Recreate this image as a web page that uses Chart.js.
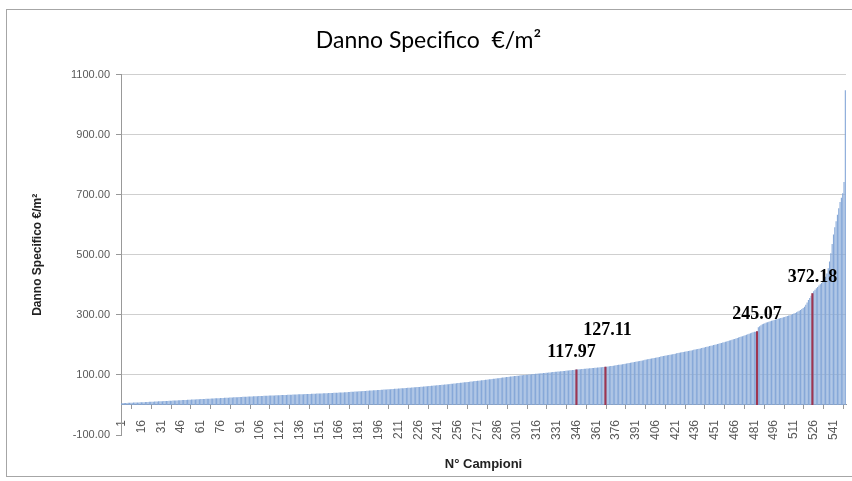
<!DOCTYPE html>
<html>
<head>
<meta charset="utf-8">
<script src="https://cdn.jsdelivr.net/npm/chart.js@4.4.1/dist/chart.umd.min.js"></script>
<style>
  html, body { margin: 0; padding: 0; background: #fff; overflow: hidden; }
  #frame { position: absolute; left: 6px; top: 9px; width: 900px; height: 466px; border: 1px solid #a6a6a6; }
  #wrap { position: absolute; left: 7px; top: 10px; width: 848px; height: 466px; }
</style>
</head>
<body>
<div id="frame"></div>
<div id="wrap"><canvas id="chart"></canvas></div>
<script>
// danno specifico per campione, ordinato
const values = [
  6.0, 6.2, 6.5, 6.7, 6.9, 7.1, 7.3, 7.4, 7.6, 7.8,
  8.0, 8.1, 8.3, 8.5, 8.7, 8.9, 9.2, 9.4, 9.7, 10.0,
  10.2, 10.5, 10.7, 10.9, 11.1, 11.4, 11.6, 11.8, 12.0, 12.3,
  12.5, 12.7, 13.0, 13.2, 13.4, 13.6, 13.9, 14.1, 14.3, 14.6,
  14.8, 15.0, 15.2, 15.5, 15.7, 15.9, 16.2, 16.4, 16.6, 16.9,
  17.1, 17.3, 17.6, 17.8, 18.0, 18.3, 18.5, 18.8, 19.0, 19.2,
  19.5, 19.7, 19.9, 20.2, 20.4, 20.6, 20.9, 21.1, 21.3, 21.6,
  21.8, 22.0, 22.3, 22.5, 22.7, 23.0, 23.2, 23.4, 23.7, 23.9,
  24.1, 24.4, 24.6, 24.8, 25.1, 25.3, 25.6, 25.8, 26.0, 26.3,
  26.5, 26.8, 27.0, 27.2, 27.5, 27.7, 28.0, 28.2, 28.4, 28.6,
  28.8, 29.0, 29.2, 29.4, 29.6, 29.8, 30.0, 30.2, 30.4, 30.6,
  30.8, 31.0, 31.2, 31.4, 31.5, 31.7, 31.9, 32.1, 32.3, 32.5,
  32.7, 32.9, 33.0, 33.2, 33.4, 33.6, 33.8, 34.0, 34.2, 34.4,
  34.5, 34.7, 34.9, 35.1, 35.3, 35.5, 35.6, 35.8, 36.0, 36.2,
  36.4, 36.5, 36.7, 36.9, 37.1, 37.3, 37.4, 37.6, 37.8, 38.0,
  38.2, 38.4, 38.5, 38.7, 38.9, 39.1, 39.3, 39.5, 39.7, 39.9,
  40.1, 40.3, 40.5, 40.7, 40.9, 41.1, 41.4, 41.6, 41.9, 42.1,
  42.4, 42.7, 43.0, 43.3, 43.6, 43.9, 44.2, 44.5, 44.8, 45.1,
  45.4, 45.7, 46.0, 46.3, 46.6, 46.9, 47.2, 47.5, 47.8, 48.1,
  48.4, 48.7, 49.0, 49.3, 49.6, 49.9, 50.2, 50.5, 50.8, 51.1,
  51.4, 51.7, 52.0, 52.3, 52.6, 53.0, 53.3, 53.6, 53.9, 54.3,
  54.6, 54.9, 55.3, 55.6, 55.9, 56.3, 56.6, 57.0, 57.3, 57.7,
  58.0, 58.4, 58.7, 59.1, 59.5, 59.8, 60.2, 60.6, 61.0, 61.3,
  61.7, 62.1, 62.5, 62.9, 63.3, 63.7, 64.1, 64.5, 64.9, 65.3,
  65.8, 66.2, 66.6, 67.1, 67.5, 68.0, 68.4, 68.9, 69.3, 69.8,
  70.3, 70.8, 71.3, 71.8, 72.3, 72.8, 73.3, 73.8, 74.3, 74.8,
  75.3, 75.8, 76.3, 76.8, 77.3, 77.8, 78.4, 78.9, 79.4, 79.9,
  80.5, 81.0, 81.5, 82.1, 82.6, 83.2, 83.7, 84.2, 84.8, 85.3,
  85.9, 86.4, 87.0, 87.6, 88.1, 88.7, 89.3, 89.9, 90.5, 91.1,
  91.7, 92.3, 92.9, 93.5, 94.1, 94.6, 95.1, 95.6, 96.1, 96.6,
  97.1, 97.6, 98.1, 98.6, 99.1, 99.5, 100.0, 100.4, 100.9, 101.3,
  101.8, 102.2, 102.7, 103.1, 103.6, 104.0, 104.5, 104.9, 105.4, 105.8,
  106.3, 106.7, 107.2, 107.6, 108.1, 108.5, 109.0, 109.4, 109.9, 110.3,
  110.8, 111.2, 111.7, 112.1, 112.6, 113.0, 113.5, 114.0, 114.5, 115.0,
  115.4, 115.9, 116.3, 116.8, 117.4, 117.97, 118.4, 118.8, 119.2, 119.6,
  120.0, 120.4, 120.8, 121.2, 121.6, 122.0, 122.5, 122.9, 123.3, 123.7,
  124.1, 124.5, 124.9, 125.3, 125.8, 126.2, 126.7, 127.11, 127.6, 128.2,
  128.8, 129.4, 130.1, 130.7, 131.4, 132.1, 132.8, 133.5, 134.2, 135.0,
  135.7, 136.5, 137.3, 138.1, 138.9, 139.7, 140.5, 141.3, 142.2, 143.0,
  143.9, 144.8, 145.7, 146.6, 147.5, 148.4, 149.3, 150.2, 151.1, 152.0,
  152.9, 153.8, 154.7, 155.6, 156.5, 157.4, 158.3, 159.2, 160.1, 161.0,
  161.9, 162.8, 163.7, 164.6, 165.5, 166.4, 167.3, 168.2, 169.1, 170.0,
  170.9, 171.8, 172.7, 173.6, 174.5, 175.4, 176.3, 177.2, 178.1, 179.0,
  179.9, 180.8, 181.7, 182.6, 183.5, 184.4, 185.4, 186.4, 187.4, 188.4,
  189.4, 190.5, 191.6, 192.7, 193.8, 194.9, 196.0, 197.1, 198.2, 199.3,
  200.5, 201.7, 202.9, 204.1, 205.3, 206.5, 207.8, 209.1, 210.4, 211.7,
  213.0, 214.4, 215.8, 217.2, 218.6, 220.0, 221.5, 223.0, 224.5, 226.0,
  227.6, 229.2, 230.8, 232.4, 234.0, 235.7, 237.4, 239.1, 240.8, 242.5,
  243.4, 244.2, 245.07, 258.5, 262.0, 265.3, 268.4, 270.6, 272.5, 274.2,
  275.8, 277.3, 278.7, 280.1, 281.5, 282.9, 284.2, 285.5, 286.8, 288.1,
  289.4, 290.7, 292.0, 293.3, 294.6, 296.0, 297.5, 299.1, 300.8, 302.6,
  304.5, 306.5, 308.7, 311.0, 313.5, 316.3, 319.4, 322.8, 327.0, 333.5,
  341.0, 349.2, 356.5, 364.0, 372.18, 378.5, 383.9, 388.6, 393.0, 397.4,
  401.8, 406.5, 411.8, 418.0, 426.5, 438.0, 455.0, 478.0, 505.0, 536.0,
  568.0, 592.0, 612.0, 633.0, 655.0, 676.0, 690.0, 705.0, 742.0, 1048.0
];

// campioni evidenziati in rosso con etichetta
const highlighted = [346, 368, 483, 525];

// etichette visibili sull'asse x
const xTickLabels = ['1', '16', '31', '46', '61', '76', '91', '106', '121', '136', '151', '166',
  '181', '196', '211', '226', '241', '256', '271', '286', '301', '316', '331', '346', '361',
  '376', '391', '406', '421', '436', '451', '466', '481', '496', '511', '526', '541'];

const yTicks = [-100, 100, 300, 500, 700, 900, 1100];

const samples = values.map((v, i) => String(i + 1));
const highlightValues = values.map((v, i) => highlighted.includes(i + 1) ? v : null);

// spostamento delle etichette rispetto alla cima della barra
const labelShift = [[-5, -17], [2, -36], [0, -17], [0, -16]];

const barLabels = {
  id: 'barLabels',
  afterDatasetsDraw(chart) {
    const meta = chart.getDatasetMeta(1);
    const ctx = chart.ctx;
    ctx.save();
    ctx.font = 'bold 18px "Liberation Serif", serif';
    ctx.fillStyle = '#000';
    ctx.textAlign = 'center';
    ctx.textBaseline = 'middle';
    highlighted.forEach((s, k) => {
      const bar = meta.data[s - 1];
      ctx.fillText(values[s - 1].toFixed(2), bar.x + labelShift[k][0], bar.y + labelShift[k][1]);
    });
    ctx.restore();
  }
};

const ctx = document.getElementById('chart').getContext('2d');
new Chart(ctx, {
  type: 'bar',
  data: {
    labels: samples,
    datasets: [{
      data: values,
      backgroundColor: '#86a8d8',
      barPercentage: 0.85,
      categoryPercentage: 1,
      order: 2
    }, {
      data: highlightValues,
      backgroundColor: '#9e3550',
      barPercentage: 1.6,
      categoryPercentage: 1,
      order: 1
    }]
  },
  options: {
    responsive: true,
    maintainAspectRatio: false,
    animation: false,
    datasets: { bar: { grouped: false } },
    layout: { padding: { left: 4, right: 9, top: 0, bottom: 41 } },
    plugins: {
      legend: { display: false },
      tooltip: { enabled: false },
      title: {
        display: true,
        text: 'Danno Specifico  €/m²',
        color: '#000',
        font: { family: 'Lato', size: 23, weight: 'normal' },
        padding: { top: 17, bottom: 20 }
      }
    },
    scales: {
      x: {
        position: { y: 0 },
        grid: { drawOnChartArea: false, drawTicks: true, tickLength: 4, color: '#999' },
        border: { color: '#999' },
        ticks: {
          autoSkip: false,
          minRotation: 90,
          maxRotation: 90,
          padding: 11,
          color: '#595959',
          font: { family: 'Liberation Sans', size: 12 },
          callback: function (v) {
            const l = this.getLabelForValue(v);
            return xTickLabels.includes(l) ? l : null;
          }
        },
        title: {
          display: true,
          text: 'N° Campioni',
          color: '#222',
          font: { family: 'Liberation Sans', size: 13, weight: 'bold' },
          padding: { top: 6, bottom: 4 }
        },
        afterFit: s => { s.paddingLeft = 0; s.paddingRight = 0; }
      },
      y: {
        min: yTicks[0],
        max: yTicks[yTicks.length - 1],
        ticks: {
          stepSize: yTicks[1] - yTicks[0],
          padding: 6,
          color: '#595959',
          font: { family: 'Liberation Sans', size: 11 },
          callback: v => v.toFixed(2)
        },
        grid: {
          color: c => c.tick && c.tick.value === yTicks[0] ? 'rgba(0,0,0,0)' : '#cfcfcf',
          tickColor: '#999',
          tickLength: 5
        },
        border: { color: '#999' },
        title: {
          display: true,
          text: 'Danno Specifico €/m²',
          color: '#222',
          font: { family: 'Liberation Sans', size: 12, weight: 'bold' },
          padding: { top: 19, bottom: 4 }
        },
        afterFit: s => { s.width = 110; }
      }
    }
  },
  plugins: [barLabels]
});
</script>
</body>
</html>
